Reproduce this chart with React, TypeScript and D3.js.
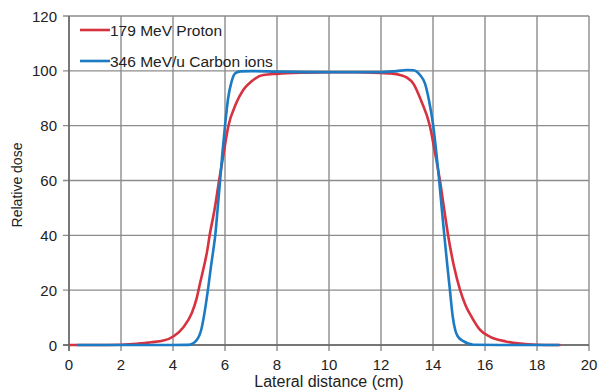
import React from "react";
import * as d3 from "d3";

const xTicks = [0, 2, 4, 6, 8, 10, 12, 14, 16, 18, 20];
const yTicks = [0, 20, 40, 60, 80, 100, 120];

const protonX = [0, 1, 2, 2.6, 3.15, 3.63, 4.04, 4.4, 4.72, 4.91, 5.04, 5.19, 5.32, 5.4, 5.6, 5.77, 5.95, 6.13, 6.4, 6.7, 7.0, 7.47, 8, 9, 10, 11, 12, 12.4, 12.73, 13.0, 13.24, 13.55, 13.88, 14.08, 14.27, 14.43, 14.59, 14.8, 15.04, 15.25, 15.5, 15.81, 16.2, 16.8, 17.35, 18, 18.9];
const protonY = [0, 0, 0.1, 0.4, 1.0, 1.6, 3.3, 6.5, 11.6, 17, 22.5, 28.6, 34.6, 39.5, 49.5, 59.8, 70, 79.9, 87.5, 93, 96, 98.5, 98.9, 99.3, 99.5, 99.5, 99.2, 99.0, 98.5, 97.5, 95.4, 89, 79.9, 70, 59.8, 49.5, 39.5, 29, 20.1, 14.5, 10, 5.5, 3.0, 1.3, 0.5, 0.1, 0];

const carbonX = [0.3, 2, 4, 4.59, 4.91, 5.1, 5.23, 5.36, 5.46, 5.55, 5.62, 5.72, 5.81, 5.9, 6.0, 6.12, 6.25, 6.4, 6.6, 7, 8, 10, 12, 12.6, 13.0, 13.25, 13.5, 13.69, 13.85, 14.01, 14.13, 14.24, 14.34, 14.44, 14.54, 14.65, 14.76, 14.86, 14.95, 15.17, 15.55, 17, 18.84];
const carbonY = [0, 0, 0, 0.05, 1.8, 6.1, 12.8, 21.3, 28.6, 34.6, 39.5, 50, 59.8, 70, 79.9, 90, 96, 99.2, 99.8, 99.9, 99.7, 99.5, 99.5, 99.9, 100.3, 100.2, 98.5, 95.4, 89, 79.9, 70, 59.8, 49.5, 39.5, 30, 20.1, 10.3, 5.3, 3.2, 1.4, 0.1, 0, 0];

const series = [
  { name: "179 MeV Proton", xs: protonX, ys: protonY, color: "#d7323f" },
  { name: "346 MeV/u Carbon ions", xs: carbonX, ys: carbonY, color: "#1c7bc2" },
];

export default function App() {
  const W = 600, H = 390;
  const left = 69, right = 589, top = 16, bottom = 345;
  const x = d3.scaleLinear().domain([0, 20]).range([left, right]);
  const y = d3.scaleLinear().domain([0, 120]).range([bottom, top]);
  const line = d3
    .line<[number, number]>()
    .x((d) => x(d[0]))
    .y((d) => y(d[1]))
    .curve(d3.curveMonotoneX);
  const font = "'Liberation Sans', Arial, sans-serif";
  const grid = "#8c8c8c";
  return (
    <svg
      width={W}
      height={H}
      style={{ position: "absolute", left: 0, top: 0, background: "#fff" }}
      fontFamily={font}
    >
      {xTicks.map((t) => (
        <line key={"gx" + t} x1={x(t)} x2={x(t)} y1={top} y2={bottom + 6} stroke={grid} strokeWidth={1.4} />
      ))}
      {yTicks.map((t) => (
        <line key={"gy" + t} x1={left - 6} x2={right} y1={y(t)} y2={y(t)} stroke={grid} strokeWidth={1.4} />
      ))}
      <line x1={left} x2={left} y1={top} y2={bottom + 6} stroke="#666" strokeWidth={1.5} />
      <line x1={left - 6} x2={right} y1={bottom} y2={bottom} stroke="#666" strokeWidth={1.5} />
      {yTicks.map((t) => (
        <text key={"ty" + t} x={57} y={y(t) + 5.5} textAnchor="end" fontSize={15} fill="#222">
          {t}
        </text>
      ))}
      {xTicks.map((t) => (
        <text key={"tx" + t} x={x(t)} y={bottom + 24.5} textAnchor="middle" fontSize={15} fill="#222">
          {t}
        </text>
      ))}
      <text x={x(10)} y={386.5} textAnchor="middle" fontSize={16} fill="#222">
        Lateral distance (cm)
      </text>
      <text
        transform={`translate(22, 185) rotate(-90)`}
        textAnchor="middle"
        fontSize={14}
        fill="#222"
      >
        Relative dose
      </text>
      {series.map((s) => (
        <path
          key={s.name}
          d={line(s.xs.map((v, i) => [v, s.ys[i]] as [number, number])) || ""}
          fill="none"
          stroke={s.color}
          strokeWidth={2.6}
          strokeLinejoin="round"
        />
      ))}
      {series.map((s, i) => (
        <g key={"lg" + i}>
          <line x1={80} x2={110} y1={30 + i * 31} y2={30 + i * 31} stroke={s.color} strokeWidth={2.6} />
          <text x={110} y={36 + i * 31} fontSize={15.5} fill="#222">
            {s.name}
          </text>
        </g>
      ))}
    </svg>
  );
}
